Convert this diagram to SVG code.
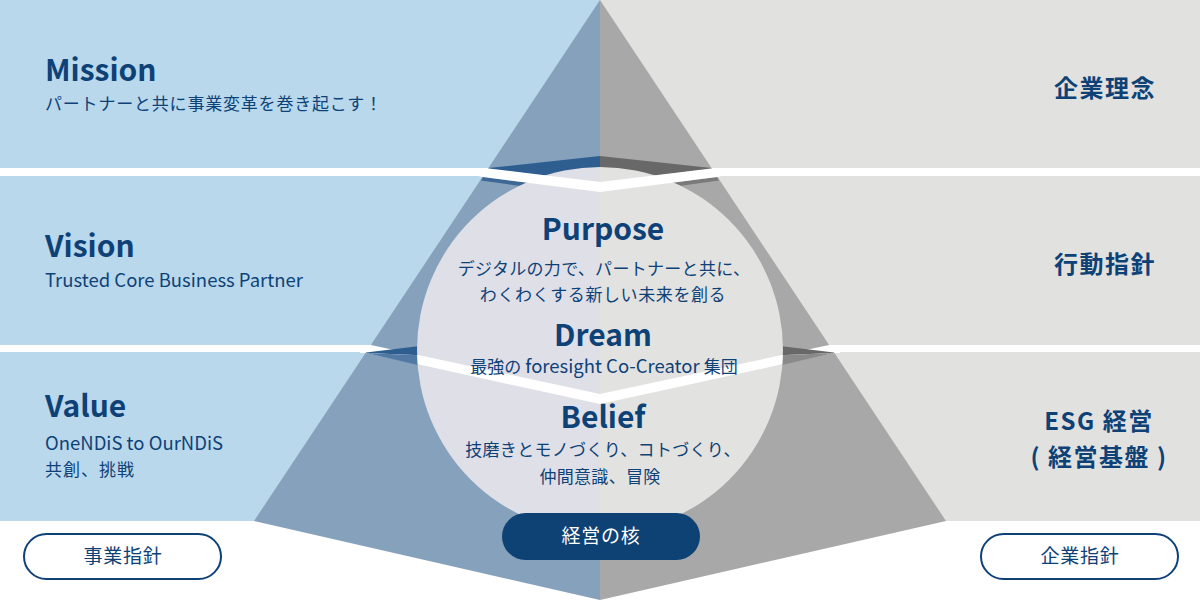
<svg xmlns="http://www.w3.org/2000/svg" width="1200" height="600" viewBox="0 0 1200 600">
<style>
.t{font-family:"Noto Sans CJK JP","Noto Sans",sans-serif;fill:#0E4277}
.h{font-weight:700;font-size:30px}
.s{font-size:17px}
.l{font-size:18.5px}
.p{font-size:19px;letter-spacing:0.8px}
.r{font-weight:700;font-size:24px;letter-spacing:1.5px}
.c{text-anchor:middle}
.bl{fill:#B9D8EC}
.gr{fill:#E1E1DF}
.pill{fill:#fff;stroke:#0E4277;stroke-width:2}
</style>
<defs>
<clipPath id="cc"><circle cx="600" cy="350" r="183"/></clipPath>
</defs>
<rect width="1200" height="600" fill="#fff"/>
<g id="bands">
<rect class="bl" x="0" y="0" width="600" height="168"/>
<rect class="bl" x="0" y="176" width="600" height="169"/>
<rect class="bl" x="0" y="352" width="600" height="169"/>
<rect class="gr" x="600" y="0" width="600" height="168"/>
<rect class="gr" x="600" y="176" width="600" height="169"/>
<rect class="gr" x="600" y="352" width="600" height="169"/>
</g>
<g id="pyramid">
<polygon points="600,0 254,521 600,600" fill="#85A1BC"/>
<polygon points="600,0 946,521 600,600" fill="#A8A8A8"/>
<polygon points="360,345 371,345 600,394 829,345 840,345 840,353 834,353 600,404 366,353 360,353" fill="#fff"/>
<polygon points="366,352.5 420,346 420,355.2 366,353" fill="#2E5E90"/>
<polygon points="366,353 420,355.2 420,365.5" fill="#5279A3"/>
<polygon points="834,352.5 780,346 780,355.2 834,353" fill="#686868"/>
<polygon points="834,353 780,355.2 780,365.5" fill="#8A8A8A"/>
<polygon points="488.4,168 600,156 600,182 489,169" fill="#2E5E90"/>
<polygon points="483,177 600,192 600,197 481,180.5" fill="#3D6896"/>
<polygon points="711.6,168 600,156 600,182 711,169" fill="#686868"/>
<polygon points="717,177 600,192 600,197 719,180.5" fill="#7A7A7A"/>
</g>
<g id="core-circle">
<path d="M600,167 A183,183 0 0 0 600,533 Z" fill="#DFDFE8"/>
<path d="M600,167 A183,183 0 0 1 600,533 Z" fill="#E2E2E1"/>
<polygon points="478,168 489,168.5 600,182 711,168.5 722,168 722,176 717,177 600,192 483,177 478,176" fill="#fff"/>
<polygon clip-path="url(#cc)" points="360,345 371,345 600,394 829,345 840,345 840,353 834,353 600,404 366,353 360,353" fill="#fff"/>
</g>
<g id="mission">
<text class="t h" x="45" y="81">Mission</text>
<text class="t s" x="45" y="110" style="letter-spacing:0.8px">パートナーと共に事業変革を巻き起こす！</text>
</g>
<g id="vision">
<text class="t h" x="45" y="257">Vision</text>
<text class="t l" x="45" y="287">Trusted Core Business Partner</text>
</g>
<g id="value">
<text class="t h" x="45" y="417">Value</text>
<text class="t l" x="45" y="450">OneNDiS to OurNDiS</text>
<text class="t s" x="45" y="476" style="letter-spacing:1px">共創、挑戦</text>
</g>
<g id="rinen"><text class="t r c" x="1105" y="97">企業理念</text></g>
<g id="kodo"><text class="t r c" x="1105" y="273">行動指針</text></g>
<g id="esg">
<text class="t r c" x="1099" y="430">ESG 経営</text>
<text class="t r c" x="1099" y="466">( 経営基盤 )</text>
</g>
<g id="purpose">
<text class="t h c" x="603" y="240">Purpose</text>
<text class="t s c" x="604" y="275" style="letter-spacing:0.3px">デジタルの力で、パートナーと共に、</text>
<text class="t s c" x="603" y="301" style="letter-spacing:0.6px">わくわくする新しい未来を創る</text>
</g>
<g id="dream">
<text class="t h c" x="603" y="346">Dream</text>
<text class="t s c" x="604" y="373">最強の<tspan class="l"> foresight Co-Creator </tspan>集団</text>
</g>
<g id="belief">
<text class="t h c" x="603" y="428">Belief</text>
<text class="t s c" x="603" y="456" style="letter-spacing:0.3px">技磨きとモノづくり、コトづくり、</text>
<text class="t s c" x="600" y="483" style="letter-spacing:0.3px">仲間意識、冒険</text>
</g>
<g id="core-label">
<rect x="502" y="513" width="198" height="47" rx="23.5" fill="#0E4174"/>
<text class="t p c" x="601" y="543" style="fill:#fff">経営の核</text>
</g>
<g id="business-guideline">
<rect class="pill" x="24" y="534" width="197" height="45" rx="22.5"/>
<text class="t p c" x="123" y="563">事業指針</text>
</g>
<g id="corporate-guideline">
<rect class="pill" x="981" y="534" width="197" height="45" rx="22.5"/>
<text class="t p c" x="1080" y="563">企業指針</text>
</g>
</svg>
